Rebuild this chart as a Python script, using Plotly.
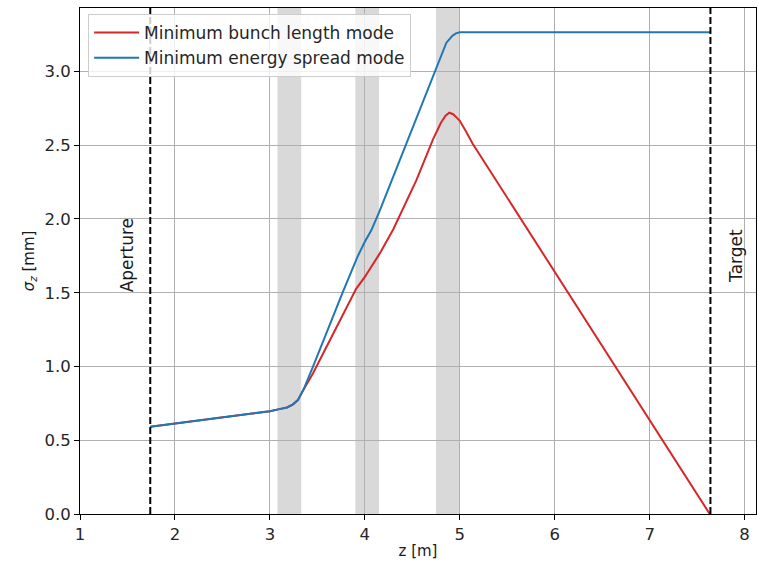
import plotly.graph_objects as go

# ---- data ----
z_common = [1.74, 2.40, 3.00, 3.10, 3.18, 3.24, 3.295]
s_common = [0.592, 0.645, 0.697, 0.711, 0.722, 0.742, 0.772]

z_red = [3.366, 3.453, 3.91, 4.00, 4.156, 4.30, 4.542, 4.718, 4.80, 4.85, 4.89, 4.93, 4.97, 5.00, 5.06, 5.136, 7.633]
s_red = [0.855, 0.952, 1.528, 1.607, 1.765, 1.93, 2.261, 2.54, 2.65, 2.70, 2.72, 2.71, 2.685, 2.665, 2.60, 2.51, 0.0]

z_blue = [3.366, 3.453, 3.769, 3.92, 4.00, 4.068, 4.15, 4.575, 4.80, 4.859, 4.92, 4.96, 5.0, 7.64]
s_blue = [0.862, 0.997, 1.505, 1.74, 1.845, 1.923, 2.045, 2.735, 3.10, 3.195, 3.240, 3.258, 3.265, 3.265]

bands = [(3.08, 3.33), (3.90, 4.15), (4.75, 5.00)]
markers_z = [1.74, 7.64]
markers_label = ["Aperture", "Target"]
label_z = [1.49, 7.91]
label_s = [1.75, 1.75]

x_ticks = [1, 2, 3, 4, 5, 6, 7, 8]
y_ticks = [0.0, 0.5, 1.0, 1.5, 2.0, 2.5, 3.0]
y_tick_text = ["0.0", "0.5", "1.0", "1.5", "2.0", "2.5", "3.0"]

red = "#d62728"
blue = "#1f77b4"
FONT = "DejaVu Sans"

fig = go.Figure()

for a, b in bands:
    fig.add_vrect(x0=a, x1=b, fillcolor="#d9d9d9", opacity=1, line_width=0, layer="below")

fig.add_trace(go.Scatter(x=z_common + z_red, y=s_common + s_red, mode="lines",
                         line=dict(color=red, width=2), name="Minimum bunch length mode"))
fig.add_trace(go.Scatter(x=z_common + z_blue, y=s_common + s_blue, mode="lines",
                         line=dict(color=blue, width=2), name="Minimum energy spread mode"))

for zm in markers_z:
    fig.add_shape(type="line", x0=zm, x1=zm, y0=0, y1=1, yref="paper", xref="x",
                  line=dict(color="black", width=2, dash="7px,3px"), layer="above")

for txt, xz, ys in zip(markers_label, label_z, label_s):
    fig.add_annotation(x=xz, y=ys, text=txt, textangle=-90, showarrow=False,
                       font=dict(family=FONT, size=17, color="#1a1a1a"))

axis_common = dict(showline=True, linecolor="black", linewidth=1, mirror=True,
                   ticks="outside", ticklen=5, tickcolor="black",
                   showgrid=True, gridcolor="#b0b0b0", gridwidth=1, zeroline=False,
                   automargin=False,
                   tickfont=dict(family=FONT, size=16.5, color="#262626"))

fig.update_xaxes(range=[1, 8.12], tickvals=x_ticks,
                 title=dict(text="z [m]", font=dict(family=FONT, size=15, color="#1a1a1a"), standoff=2),
                 **axis_common)
fig.update_yaxes(range=[0, 3.43], tickvals=y_ticks, ticktext=y_tick_text,
                 title=dict(text="<i>σ</i><sub><i>z</i></sub> [mm]", font=dict(family=FONT, size=15, color="#1a1a1a"), standoff=6),
                 **axis_common)

fig.update_layout(
    width=758, height=567,
    margin=dict(l=80, r=2, t=8, b=53, autoexpand=False),
    plot_bgcolor="white", paper_bgcolor="white",
    showlegend=True,
    legend=dict(x=0.012, y=0.988, xanchor="left", yanchor="top", itemwidth=45,
                bgcolor="rgba(255,255,255,0.8)", bordercolor="#cccccc", borderwidth=1,
                font=dict(family=FONT, size=17, color="#262626")),
)

fig.write_html("out.html", config={"displayModeBar": False},
               post_script="document.body.style.margin='0';document.body.style.overflow='hidden';")
